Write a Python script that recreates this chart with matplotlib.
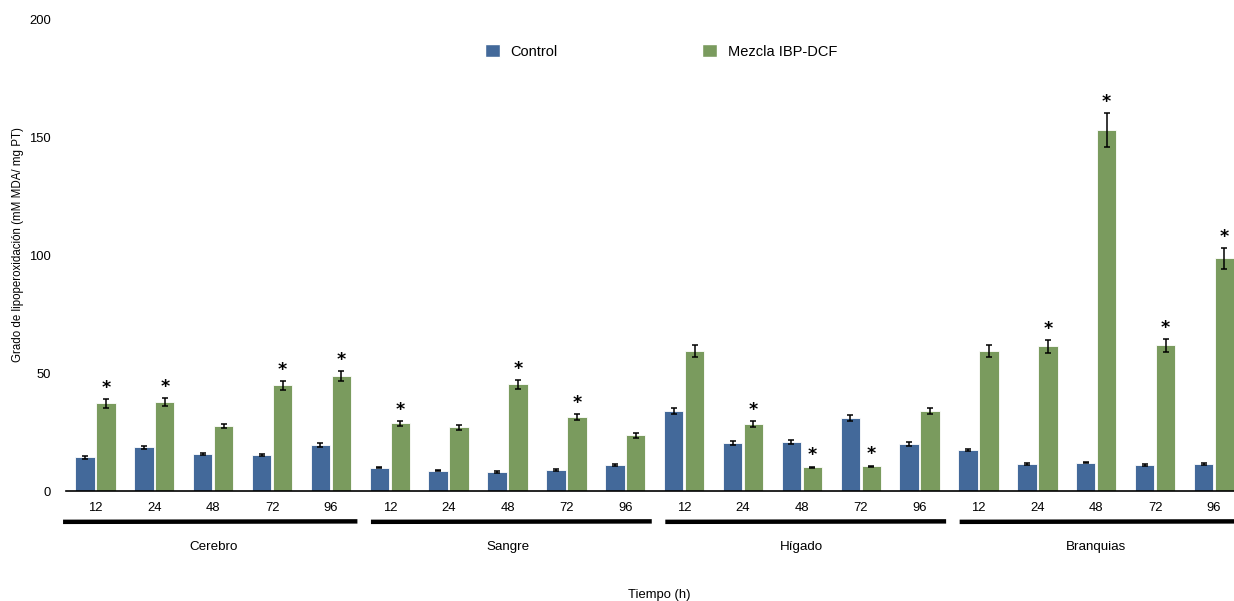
#!/usr/bin/env python3
# Lipoperoxidation by tissue and time: control vs IBP-DCF mixture

import matplotlib as mpl
mpl.use("Agg")

import matplotlib.pyplot as plt             # noqa
import matplotlib.transforms as mtrans      # noqa
from matplotlib.patches import Patch        # noqa
import numpy as np                          # noqa

plt.rcParams['font.family'] = ['Liberation Sans', 'DejaVu Sans']

tissues = ['Cerebro', 'Sangre', 'Hígado', 'Branquias']
hours = ['12', '24', '48', '72', '96']

# values per tissue, in order 12/24/48/72/96 h
ctrl = [14.3, 18.5, 15.7, 15.3, 19.4,
        9.9, 8.6, 8.1, 8.8, 11.0,
        34.0, 20.4, 20.9, 30.9, 19.8,
        17.4, 11.5, 12.0, 11.0, 11.5]
ctrl_err = [0.5, 0.5, 0.5, 0.5, 0.8,
            0.3, 0.3, 0.3, 0.4, 0.3,
            1.2, 0.8, 0.8, 1.2, 0.8,
            0.4, 0.3, 0.3, 0.3, 0.3]
mix = [37.2, 37.8, 27.6, 44.9, 48.7,
       28.7, 27.0, 45.3, 31.3, 23.6,
       59.4, 28.3, 10.1, 10.5, 34.1,
       59.4, 61.4, 153.3, 61.9, 98.8]
mix_err = [1.8, 1.7, 0.9, 1.9, 2.1,
           1.2, 0.9, 1.9, 1.2, 0.9,
           2.7, 1.3, 0.3, 0.3, 1.3,
           2.6, 2.8, 7.2, 2.8, 4.5]
signif = [1, 1, 0, 1, 1,
          1, 0, 1, 1, 0,
          0, 1, 1, 1, 0,
          0, 1, 1, 1, 1]

BLUE = '#43699a'
GREEN = '#7a9b5e'

fig = plt.figure(figsize=(12.34, 6.01), dpi=100)
ax = fig.add_axes([66/1234, 110/601, 1 - 66/1234, 471/601])

x = np.arange(len(ctrl))
bw = 0.33
off = 0.178
ax.bar(x - off, ctrl, bw, color=BLUE, edgecolor='white', linewidth=0.6, zorder=2)
ax.bar(x + off, mix, bw, color=GREEN, edgecolor='white', linewidth=0.6, zorder=2)
ekw = dict(fmt='none', ecolor='black', elinewidth=1.1, capsize=2.4, capthick=1.1, zorder=3)
ax.errorbar(x - off, ctrl, yerr=ctrl_err, **ekw)
ax.errorbar(x + off, mix, yerr=mix_err, **ekw)

# significance marks
for i in range(len(mix)):
  if signif[i]:
    ax.annotate('*', (x[i] + off, mix[i] + mix_err[i]), xytext=(0, 1.5),
                textcoords='offset points', ha='center', va='bottom',
                fontsize=12.5, fontweight='bold', family='DejaVu Sans')

ax.set_xlim(-0.5, 19.34)
ax.set_ylim(0, 200)
ax.set_yticks([0, 50, 100, 150, 200])
ax.set_xticks(x)
ax.set_xticklabels(hours * len(tissues))
ax.tick_params(axis='both', length=0, labelsize=9.4)
ax.tick_params(axis='x', pad=8)
ax.tick_params(axis='y', pad=11)
for side in ['top', 'right', 'left']:
  ax.spines[side].set_visible(False)
ax.spines['bottom'].set_linewidth(1.2)
ax.spines['bottom'].set_zorder(4)

# group brackets and tissue names below the tick labels
tr = mtrans.blended_transform_factory(ax.transData, ax.transAxes)
for g, name in enumerate(tissues):
  x0 = g*5 - 0.32 if g else -0.55
  x1 = g*5 + 4.45
  ax.plot([x0, x1], [-0.0655, -0.0645], transform=tr, color='black', lw=3.2,
          solid_capstyle='butt', clip_on=False)
  ax.text(g*5 + 2, -0.119, name, transform=tr, ha='center', va='center', fontsize=9.6)

fig.text(659/1234, 1 - 595/601, 'Tiempo (h)', ha='center', va='center', fontsize=9.4)
fig.text(18/1234, 1 - 245/601, 'Grado de lipoperoxidación (mM MDA/ mg PT)',
         rotation=90, ha='center', va='center', fontsize=8.3)

handles = [Patch(facecolor=BLUE, edgecolor='white', label='Control'),
           Patch(facecolor=GREEN, edgecolor='white', label='Mezcla IBP-DCF')]
fig.legend(handles=handles, loc='upper left', bbox_to_anchor=(485/1234, 1 - 44/601),
           ncol=2, frameon=False, fontsize=10.5, handlelength=1.0, handleheight=1.0,
           handletextpad=0.75, columnspacing=9.9, borderpad=0, borderaxespad=0)

plt.savefig('out.png', dpi=100)
